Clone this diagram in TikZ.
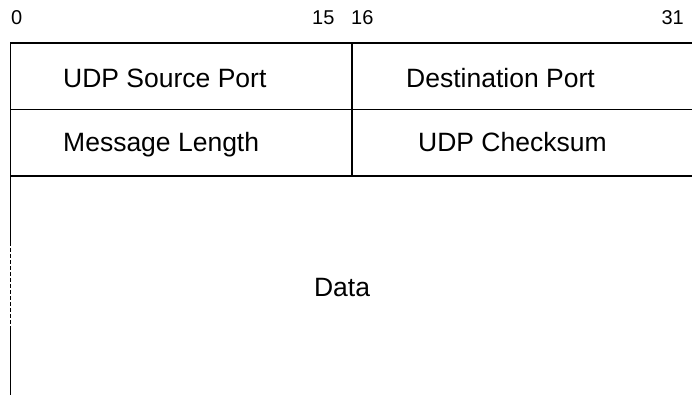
\documentclass[tikz,border=0pt]{standalone}
\usepackage{fontspec}
\setmainfont{Liberation Sans}
\usetikzlibrary{positioning}

\tikzset{
    field/.style={inner sep=0pt, font=\fontsize{26.5}{31}\selectfont},
    bitno/.style={inner sep=0pt, font=\fontsize{20}{24}\selectfont},
    rule/.style={line width=1.5pt, line cap=rect},
    gap/.style={line width=1.5pt, dash pattern=on 4pt off 2pt}
}

\begin{document}
\begin{tikzpicture}[x=1pt, y=1pt]
    \useasboundingbox (0,0) rectangle (692,395);

    % corners of the header rows
    \coordinate (Top L)  at (10.5,352);
    \coordinate (Top M)  at (352,352);
    \coordinate (Top R)  at (700,352);
    \coordinate (Mid L)  at (10.5,285.5);
    \coordinate (Mid R)  at (700,285.5);
    \coordinate (Low L)  at (10.5,219);
    \coordinate (Low M)  at (352,219);
    \coordinate (Low R)  at (700,219);
    \coordinate (Gap T)  at (10.5,153);
    \coordinate (Gap B)  at (10.5,68);
    \coordinate (Bottom) at (10.5,-2);

    % bit numbers
    \node[bitno, anchor=base west]  (Bit 0)  at (11,370)  {0};
    \node[bitno, anchor=base west]  (Bit 15) at (312,370) {15};
    \node[bitno, anchor=base west]  (Bit 16) at (351,370) {16};
    \node[bitno, anchor=base east]  (Bit 31) at (684,370) {31};

    % fields
    \node[field, anchor=base west]  (Src Port) at (63,307)  {UDP Source Port};
    \node[field, anchor=base west]  (Dst Port) at (406,307) {Destination Port};
    \node[field, anchor=base west]  (Length)   at (63,243)  {Message Length};
    \node[field, anchor=base west]  (Checksum) at (418,243) {UDP Checksum};
    \node[field, anchor=base]       (Data)     at (342,98)  {Data};

    \draw[rule] (Top L) -- (Top R);
    \draw[rule] (Mid L) -- (Mid R);
    \draw[rule] (Low L) -- (Low R);
    \draw[rule] (Top M) -- (Low M);
    \draw[rule] (Top L) -- (Gap T);
    \draw[gap]  (Gap T) -- (Gap B);
    \draw[rule] (Gap B) -- (Bottom);
\end{tikzpicture}
\end{document}
